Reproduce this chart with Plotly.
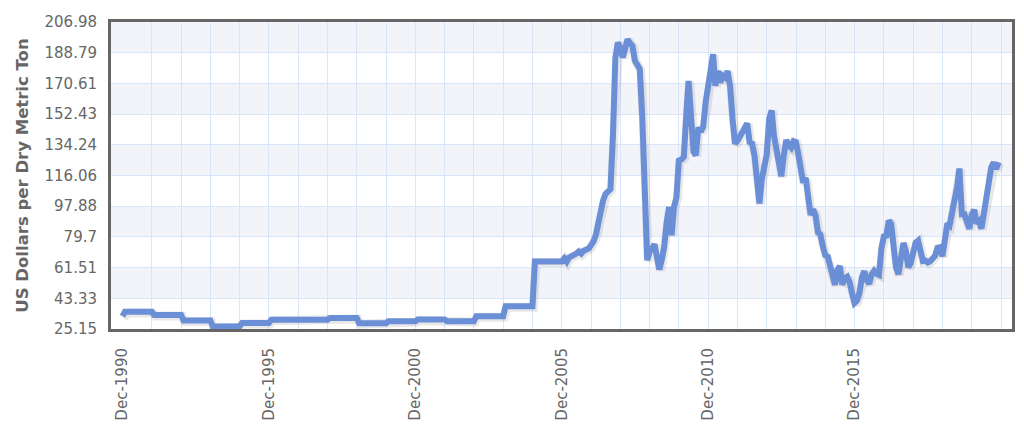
import pandas as pd
import plotly.graph_objects as go

# Iron ore, US dollars per dry metric ton, monthly from Dec-1990
price_1990 = [32.7]
price_1991 = [35.3, 35.3, 35.3, 35.3, 35.3, 35.3, 35.3, 35.3, 35.3, 35.3, 35.3, 35.3]
price_1992 = [33.5, 33.5, 33.5, 33.5, 33.5, 33.5, 33.5, 33.5, 33.5, 33.5, 33.5, 33.5]
price_1993 = [30.2, 30.2, 30.2, 30.2, 30.2, 30.2, 30.2, 30.2, 30.2, 30.2, 30.2, 30.2]
price_1994 = [26.7, 26.7, 26.7, 26.7, 26.7, 26.7, 26.7, 26.7, 26.7, 26.7, 26.7, 26.7]
price_1995 = [28.7, 28.7, 28.7, 28.7, 28.7, 28.7, 28.7, 28.7, 28.7, 28.7, 28.7, 28.7]
price_1996 = [30.6, 30.6, 30.6, 30.6, 30.6, 30.6, 30.6, 30.6, 30.6, 30.6, 30.6, 30.6]
price_1997 = [30.6, 30.6, 30.6, 30.6, 30.6, 30.6, 30.6, 30.6, 30.6, 30.6, 30.6, 30.6]
price_1998 = [31.6, 31.6, 31.6, 31.6, 31.6, 31.6, 31.6, 31.6, 31.6, 31.6, 31.6, 31.6]
price_1999 = [28.6, 28.6, 28.6, 28.6, 28.6, 28.6, 28.6, 28.6, 28.6, 28.6, 28.6, 28.6]
price_2000 = [29.8, 29.8, 29.8, 29.8, 29.8, 29.8, 29.8, 29.8, 29.8, 29.8, 29.8, 29.8]
price_2001 = [30.8, 30.8, 30.8, 30.8, 30.8, 30.8, 30.8, 30.8, 30.8, 30.8, 30.8, 30.8]
price_2002 = [29.8, 29.8, 29.8, 29.8, 29.8, 29.8, 29.8, 29.8, 29.8, 29.8, 29.8, 29.8]
price_2003 = [32.7, 32.7, 32.7, 32.7, 32.7, 32.7, 32.7, 32.7, 32.7, 32.7, 32.7, 32.7]
price_2004 = [38.6, 38.6, 38.6, 38.6, 38.6, 38.6, 38.6, 38.6, 38.6, 38.6, 38.6, 38.6]
price_2005 = [65.2, 65.2, 65.2, 65.2, 65.2, 65.2, 65.2, 65.2, 65.2, 65.2, 65.2, 65.2]
price_2006 = [67.0, 65.0, 67.5, 68.0, 68.8, 69.8, 71.0, 69.8, 71.5, 72.0, 72.8, 74.7]
price_2007 = [77.0, 81.0, 87.5, 96.0, 101.3, 105.2, 106.5, 108.0, 140.0, 186.0, 194.8, 191.9]
price_2008 = [186.0, 193.0, 196.7, 194.5, 192.8, 184.0, 181.0, 179.0, 150.0, 105.0, 66.0, 70.8]
price_2009 = [73.0, 75.3, 68.0, 60.4, 66.0, 73.8, 88.0, 97.4, 80.7, 97.4, 103.0, 124.9]
price_2010 = [125.5, 127.0, 150.0, 172.1, 152.0, 130.0, 128.0, 144.5, 142.0, 145.0, 160.0, 172.0]
price_2011 = [178.0, 187.9, 169.2, 178.0, 171.2, 175.1, 174.0, 178.0, 169.2, 150.0, 135.0, 136.5]
price_2012 = [139.5, 140.5, 144.7, 146.9, 135.9, 135.0, 127.9, 107.5, 99.5, 114.0, 120.4, 128.5]
price_2013 = [149.7, 154.6, 139.6, 130.0, 123.0, 115.6, 127.8, 137.1, 134.2, 132.6, 136.3, 135.8]
price_2014 = [128.1, 121.4, 111.8, 114.6, 100.6, 92.7, 96.0, 92.6, 82.4, 81.1, 74.0, 68.8]
price_2015 = [68.0, 62.7, 57.5, 51.3, 60.0, 62.4, 51.5, 55.1, 56.1, 52.8, 46.2, 40.5]
price_2016 = [41.9, 46.7, 55.6, 59.4, 54.0, 52.0, 57.4, 59.6, 57.9, 57.2, 73.1, 80.0]
price_2017 = [80.4, 89.4, 87.5, 70.5, 62.0, 57.5, 67.7, 76.1, 71.5, 61.7, 64.2, 71.6]
price_2018 = [76.3, 77.5, 69.1, 65.4, 65.7, 64.6, 65.3, 66.8, 68.5, 73.2, 73.5, 68.2]
price_2019 = [76.2, 87.6, 86.5, 93.8, 100.1, 108.9, 120.2, 93.1, 93.1, 88.5, 84.6, 92.7]
price_2020 = [95.8, 87.7, 89.0, 84.7, 93.6, 103.3, 108.5, 121.0, 123.8, 119.9, 123.9]

x_label_dates = ["1990-12-01", "1995-12-01", "2000-12-01", "2005-12-01", "2010-12-01", "2015-12-01"]
x_labels = ["Dec-1990", "Dec-1995", "Dec-2000", "Dec-2005", "Dec-2010", "Dec-2015"]
y_ticks = [25.15, 43.33, 61.51, 79.7, 97.88, 116.06, 134.24, 152.43, 170.61, 188.79, 206.98]

prices = (price_1990 + price_1991 + price_1992 + price_1993 + price_1994 + price_1995
          + price_1996 + price_1997 + price_1998 + price_1999 + price_2000 + price_2001
          + price_2002 + price_2003 + price_2004 + price_2005 + price_2006 + price_2007
          + price_2008 + price_2009 + price_2010 + price_2011 + price_2012 + price_2013
          + price_2014 + price_2015 + price_2016 + price_2017 + price_2018 + price_2019
          + price_2020)
months = pd.date_range("1990-12-01", periods=len(prices), freq="MS")
# yearly vertical grid (the Dec-1990 one is not drawn in the original)
grid_dates = pd.date_range("1991-12-01", "2020-12-01", freq="12MS")

x_range = ["1990-07-11", "2021-04-17"]
# hidden axes, nudged about 1px, carry a soft drop shadow under the line
shadow_x_range = ["1990-06-28 12:00", "2021-04-04 12:00"]
shadow_y_range = [y_ticks[0] + 0.6, y_ticks[-1] + 0.6]

fig = go.Figure()
fig.add_trace(go.Scatter(
    x=months, y=prices, mode="lines", xaxis="x", yaxis="y",
    line=dict(color="rgba(0,0,0,0.09)", width=9),
    hoverinfo="skip", showlegend=False,
))
fig.add_trace(go.Scatter(
    x=months, y=prices, mode="lines", xaxis="x2", yaxis="y2",
    line=dict(color="#6a8fd6", width=6),
    hoverinfo="x+y", showlegend=False,
))

# alternating horizontal bands
for i in range(1, len(y_ticks) - 1, 2):
    fig.add_shape(type="rect", xref="paper", x0=0, x1=1, yref="y2",
                  y0=y_ticks[i], y1=y_ticks[i + 1],
                  fillcolor="#f3f4fa", line_width=0, layer="below")

grid = "#d9e5fb"
fig.update_layout(
    width=1024, height=429,
    margin=dict(l=111, r=12, t=22, b=100),
    plot_bgcolor="white", paper_bgcolor="white",
    font=dict(family="DejaVu Sans", color="#666", size=15),
    xaxis=dict(type="date", range=shadow_x_range, visible=False,
               showgrid=False, zeroline=False, automargin=False),
    yaxis=dict(range=shadow_y_range, visible=False,
               showgrid=False, zeroline=False, automargin=False),
    xaxis2=dict(
        type="date", overlaying="x", side="bottom", automargin=False,
        range=x_range,
        tickmode="array", tickvals=x_label_dates, ticktext=x_labels,
        tickangle=-90, ticks="outside", ticklen=10,
        tickcolor="rgba(0,0,0,0)",
        showgrid=False,
        minor=dict(tickmode="array", tickvals=grid_dates, showgrid=True,
                   gridcolor=grid, gridwidth=1),
        showline=True, linecolor="#666", linewidth=3, mirror=True,
        zeroline=False,
    ),
    yaxis2=dict(
        overlaying="y", side="left", automargin=False,
        range=[y_ticks[0], y_ticks[-1]],
        tickvals=y_ticks, ticktext=[f"{v:g}" for v in y_ticks],
        ticks="outside", ticklen=8, tickcolor="rgba(0,0,0,0)",
        showgrid=True, gridcolor=grid, gridwidth=1,
        showline=True, linecolor="#666", linewidth=3, mirror=True,
        zeroline=False,
        title=dict(text="<b>US Dollars per Dry Metric Ton</b>",
                   font=dict(size=16.5, color="#666"), standoff=12),
    ),
)

fig.write_html("out.html", config={"displayModeBar": False},
               post_script="document.body.style.margin='0px';")
